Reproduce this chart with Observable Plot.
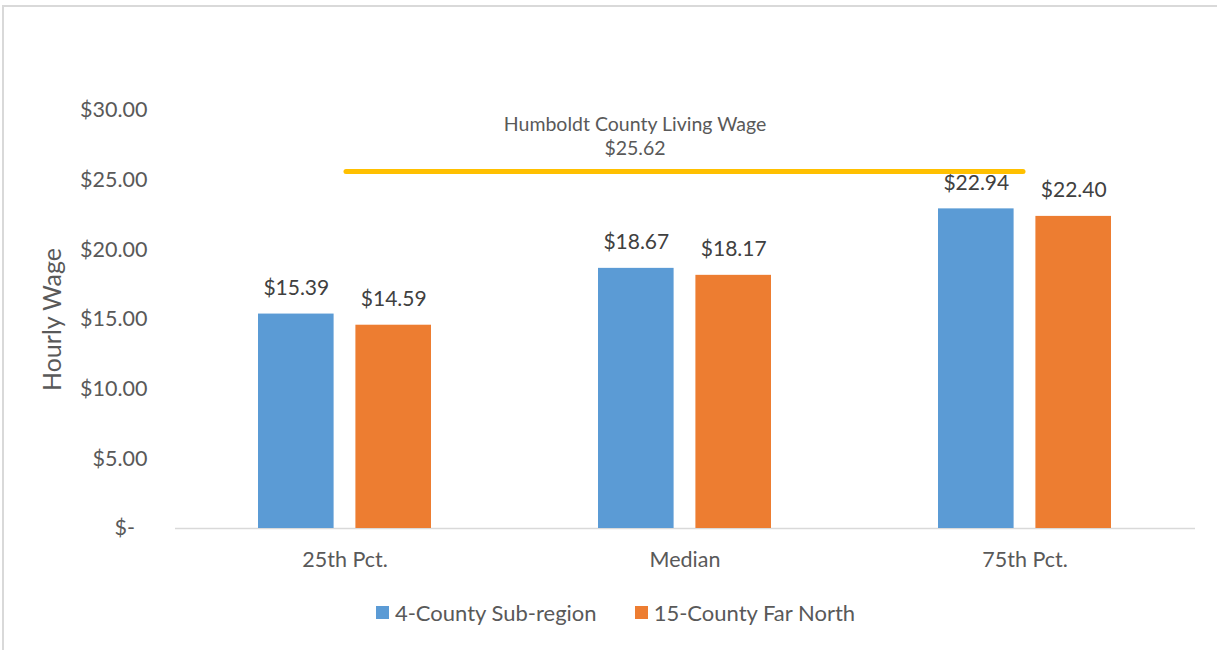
<!DOCTYPE html>
<html>
<head>
<meta charset="utf-8">
<script src="https://cdn.jsdelivr.net/npm/d3@7"></script>
<script src="https://cdn.jsdelivr.net/npm/@observablehq/plot@0.6"></script>
<style>
  html, body { margin: 0; padding: 0; background: #fff; overflow: hidden; }
  #frame { position: absolute; left: 2px; top: 5px; width: 1300px; height: 700px; border-left: 2px solid #d9d9d9; border-top: 2px solid #d9d9d9; box-sizing: border-box; }
  #chart { position: absolute; left: 0; top: 0; }
  #legend { position: absolute; left: 7px; top: 599px; width: 1217px; display: flex; justify-content: center; align-items: center; gap: 38px; font-family: Lato, sans-serif; font-size: 22px; color: #595959; }
  .item { display: flex; align-items: center; gap: 6px; }
  .sw { width: 13px; height: 13px; display: inline-block; }
</style>
</head>
<body>
<div id="frame"></div>
<div id="chart"></div>
<div id="legend"></div>
<script>
const categories = ["25th Pct.", "Median", "75th Pct."];
const series = ["4-County Sub-region", "15-County Far North"];
const subregion = [15.39, 18.67, 22.94];
const farNorth = [14.59, 18.17, 22.40];
const livingWage = 25.62;
const livingWageLabel = "Humboldt County Living Wage";
const yTicks = [0, 5, 10, 15, 20, 25, 30];
const colors = ["#5B9BD5", "#ED7D31"];

const data = categories.flatMap((c, i) => [
  {cat: c, series: series[0], value: subregion[i]},
  {cat: c, series: series[1], value: farNorth[i]}
]);
const money = d => "$" + d.toFixed(2);
const tickFmt = d => d === 0 ? "$-\u2007" : money(d);

const chart = Plot.plot({
  width: 1217,
  height: 585,
  marginLeft: 175,
  marginRight: 22,
  marginTop: 110,
  marginBottom: 57,
  style: {fontFamily: "Lato, sans-serif", fontSize: "21.5px", color: "#595959", background: "transparent", overflow: "visible"},
  x: {domain: categories, paddingInner: 0.49, paddingOuter: 0.245, label: null, axis: null},
  y: {domain: [0, 30], label: null, axis: null},
  color: {domain: series, range: colors},
  marks: [
    Plot.axisY({ticks: yTicks, tickSize: 0, tickPadding: 28, tickFormat: tickFmt, label: null, fill: "#595959"}),
    Plot.axisX({tickSize: 0, tickPadding: 23, label: null, fill: "#595959"}),
    Plot.ruleY([0], {stroke: "#d9d9d9", strokeWidth: 1.5}),
    Plot.barY(data.filter(d => d.series === series[0]), {x: "cat", y: "value", fill: "series", insetRight: 97.4}),
    Plot.barY(data.filter(d => d.series === series[1]), {x: "cat", y: "value", fill: "series", insetLeft: 97.4}),
    Plot.text(data.filter(d => d.series === series[0]), {x: "cat", y: "value", text: d => money(d.value), dx: -48.7, dy: -26, fill: "#404040", fontSize: 21}),
    Plot.text(data.filter(d => d.series === series[1]), {x: "cat", y: "value", text: d => money(d.value), dx: 48.7, dy: -26, fill: "#404040", fontSize: 21}),
    Plot.ruleY([livingWage], {x1: () => categories[0], x2: () => categories[2], insetLeft: 88, insetRight: 88, stroke: "#FFC000", strokeWidth: 5, strokeLinecap: "round"}),
    Plot.text([livingWage], {x: () => categories[1], y: d => d, dx: -50, dy: -36, text: d => livingWageLabel + "\n" + money(d), lineHeight: 1.22, fontSize: 19.5, fill: "#595959"}),
    Plot.text(["Hourly Wage"], {frameAnchor: "left", textAnchor: "middle", dx: -123, rotate: -90, fontSize: 25, fill: "#595959"})
  ]
});
document.getElementById("chart").appendChild(chart);

const legend = document.getElementById("legend");
series.forEach((s, i) => {
  const item = document.createElement("div");
  item.className = "item";
  const sw = document.createElement("span");
  sw.className = "sw";
  sw.style.background = colors[i];
  const t = document.createElement("span");
  t.textContent = s;
  item.appendChild(sw);
  item.appendChild(t);
  legend.appendChild(item);
});
</script>
</body>
</html>
